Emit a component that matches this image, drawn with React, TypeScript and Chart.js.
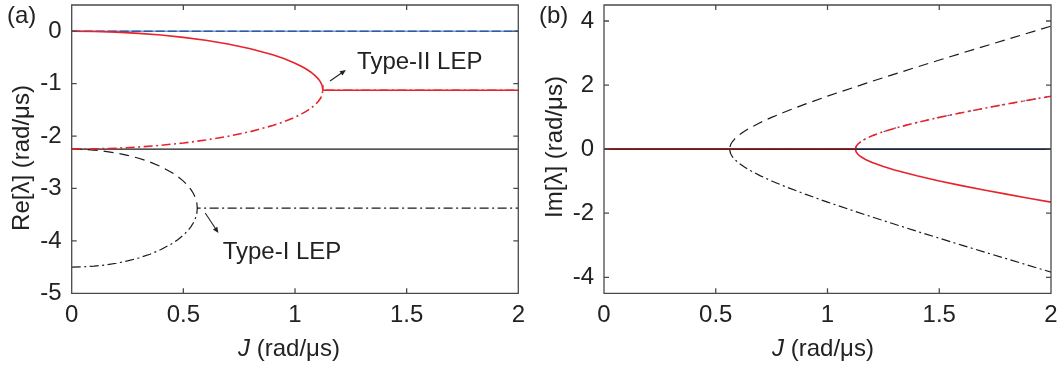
import React, { useEffect, useRef } from "react";
import { Chart, registerables } from "chart.js";
Chart.register(...registerables);

const FONT = "'Liberation Sans', Arial, sans-serif";
const FS = 24;
const TXT = "#222222";
const RED = "#e8232b";
const BLUE = "#2f5aa6";
const BLACK = "#1a1a1a";

// ---------- shared ticks ----------
const xTicks = [0, 0.5, 1, 1.5, 2];
const yTicksA = [0, -1, -2, -3, -4, -5];
const yTicksB = [4, 2, 0, -2, -4];

// ---------- panel (a): Re[lambda] ----------
const jRed = [0, 0.1, 0.2, 0.3, 0.4, 0.5, 0.6, 0.7, 0.8, 0.9, 0.95, 1.0, 1.03, 1.05, 1.07, 1.09, 1.105, 1.115, 1.121, 1.125, 2.0];
const reRedUpper = [0, -0.0045, -0.0179, -0.0407, -0.0735, -0.1172, -0.1734, -0.2443, -0.334, -0.45, -0.5224, -0.6096, -0.6725, -0.7211, -0.7775, -0.8466, -0.9138, -0.9753, -1.0302, -1.125, -1.125];
const reRedLower = [-2.25, -2.2456, -2.2321, -2.2093, -2.1765, -2.1328, -2.0766, -2.0057, -1.916, -1.8, -1.7276, -1.6404, -1.5775, -1.5289, -1.4725, -1.4034, -1.3362, -1.2747, -1.2198, -1.125, -1.125];
const jBlack = [0, 0.05, 0.1, 0.15, 0.2, 0.25, 0.3, 0.35, 0.4, 0.45, 0.475, 0.5, 0.515, 0.525, 0.535, 0.545, 0.5525, 0.5575, 0.5605, 0.5625, 2.0];
const reBlackUpper = [-2.25, -2.2545, -2.2679, -2.2907, -2.3235, -2.3672, -2.4234, -2.4943, -2.584, -2.7, -2.7724, -2.8596, -2.9225, -2.9711, -3.0275, -3.0966, -3.1638, -3.2253, -3.2802, -3.375];
const reBlackLower = [-4.5, -4.4956, -4.4821, -4.4593, -4.4265, -4.3828, -4.3266, -4.2557, -4.166, -4.05, -3.9776, -3.8904, -3.8275, -3.7789, -3.7225, -3.6534, -3.5862, -3.5247, -3.4698, -3.375, -3.375];
const jFlat = [0, 2];
const reBlue = [0, 0];
const reBlackFlat = [-2.25, -2.25];

// ---------- panel (b): Im[lambda] ----------
const jImRed = [0, 1.125, 1.128, 1.135, 1.14, 1.15, 1.17, 1.2, 1.25, 1.3, 1.4, 1.5, 1.6, 1.7, 1.8, 1.9, 2.0];
const imRedUpper = [0, 0, 0.0822, 0.1503, 0.1843, 0.2385, 0.3214, 0.4176, 0.5449, 0.6514, 0.8333, 0.9922, 1.1377, 1.2745, 1.4051, 1.5311, 1.6536];
const imRedLower = [0, 0, -0.0822, -0.1503, -0.1843, -0.2385, -0.3214, -0.4176, -0.5449, -0.6514, -0.8333, -0.9922, -1.1377, -1.2745, -1.4051, -1.5311, -1.6536];
const jImBlack = [0, 0.5625, 0.564, 0.5675, 0.57, 0.575, 0.585, 0.6, 0.625, 0.65, 0.7, 0.75, 0.8, 0.9, 1.0, 1.2, 1.4, 1.6, 1.8, 2.0];
const imBlackUpper = [0, 0, 0.0822, 0.1503, 0.1843, 0.2385, 0.3214, 0.4176, 0.5449, 0.6514, 0.8333, 0.9922, 1.1377, 1.4051, 1.6536, 2.12, 2.5641, 2.9957, 3.4197, 3.8385];
const imBlackLower = [0, 0, -0.0822, -0.1503, -0.1843, -0.2385, -0.3214, -0.4176, -0.5449, -0.6514, -0.8333, -0.9922, -1.1377, -1.4051, -1.6536, -2.12, -2.5641, -2.9957, -3.4197, -3.8385];
const imZero = [0, 0];

const pts = (xs: number[], ys: number[]) => ys.map((y, i) => ({ x: xs[i], y }));

const DASH = [10, 6];
const DASHDOT = [9, 3.5, 2, 3.5];

function line(data: any, color: string, width: number, dash: number[] = []) {
  return {
    data,
    borderColor: color,
    backgroundColor: color,
    borderWidth: width,
    borderDash: dash,
    pointRadius: 0,
    fill: false,
    tension: 0,
  };
}

function makeDecor(p: any) {
  return {
    id: "decor",
    afterDraw(chart: any) {
      const ctx = chart.ctx;
      const sx = chart.scales.x;
      const sy = chart.scales.y;
      const L0 = sx.left, R0 = sx.right, T0 = sy.top, B0 = sy.bottom;
      ctx.save();
      ctx.setLineDash([]);
      ctx.strokeStyle = "#4a4a4a";
      ctx.lineWidth = 1.3;
      ctx.beginPath();
      ctx.moveTo(L0, T0);
      ctx.lineTo(R0, T0);
      ctx.lineTo(R0, B0);
      ctx.lineTo(L0, B0);
      ctx.closePath();
      const L = 5;
      for (const v of xTicks) {
        const x = sx.getPixelForValue(v);
        ctx.moveTo(x, B0);
        ctx.lineTo(x, B0 - L);
        ctx.moveTo(x, T0);
        ctx.lineTo(x, T0 + L);
      }
      for (const v of p.yTicks) {
        const y = sy.getPixelForValue(v);
        ctx.moveTo(L0, y);
        ctx.lineTo(L0 + L, y);
        ctx.moveTo(R0, y);
        ctx.lineTo(R0 - L, y);
      }
      ctx.stroke();

      const o = p.texts;
      ctx.fillStyle = TXT;
      ctx.strokeStyle = TXT;
      const reg = `${FS}px ${FONT}`;
      const ita = `italic ${FS}px ${FONT}`;
      ctx.font = reg;
      ctx.textBaseline = "middle";
      ctx.textAlign = "left";
      ctx.fillText(o.panel, o.panelX, o.panelY);
      ctx.save();
      ctx.translate(o.yTitleX, o.yTitleY);
      ctx.rotate(-Math.PI / 2);
      ctx.textAlign = "center";
      ctx.fillText(o.yTitle, 0, 0);
      ctx.restore();
      ctx.font = ita;
      const wJ = ctx.measureText("J").width;
      ctx.font = reg;
      const rest = " (rad/\u03bcs)";
      const wR = ctx.measureText(rest).width;
      const x0 = o.xTitleX - (wJ + wR) / 2;
      ctx.textAlign = "left";
      ctx.font = ita;
      ctx.fillText("J", x0, o.xTitleY);
      ctx.font = reg;
      ctx.fillText(rest, x0 + wJ, o.xTitleY);
      for (const n of o.notes) {
        ctx.font = reg;
        ctx.textBaseline = "alphabetic";
        ctx.textAlign = "left";
        ctx.fillText(n.text, sx.getPixelForValue(n.x), sy.getPixelForValue(n.y));
        const x1 = sx.getPixelForValue(n.arrow[0]);
        const y1 = sy.getPixelForValue(n.arrow[1]);
        const x2 = sx.getPixelForValue(n.arrow[2]);
        const y2 = sy.getPixelForValue(n.arrow[3]);
        const ang = Math.atan2(y2 - y1, x2 - x1);
        const hl = 6, hw = 2.6;
        ctx.lineWidth = 1.1;
        ctx.beginPath();
        ctx.moveTo(x1, y1);
        ctx.lineTo(x2 - hl * 0.6 * Math.cos(ang), y2 - hl * 0.6 * Math.sin(ang));
        ctx.stroke();
        ctx.beginPath();
        ctx.moveTo(x2, y2);
        ctx.lineTo(x2 - hl * Math.cos(ang) + hw * Math.sin(ang), y2 - hl * Math.sin(ang) - hw * Math.cos(ang));
        ctx.lineTo(x2 - hl * Math.cos(ang) - hw * Math.sin(ang), y2 - hl * Math.sin(ang) + hw * Math.cos(ang));
        ctx.closePath();
        ctx.fill();
      }
      ctx.restore();
    },
  };
}

function makeOptions(p: any) {
  return {
    responsive: false,
    animation: false,
    events: [],
    layout: { padding: { top: p.top, right: p.right, bottom: 0, left: 0 } },
    plugins: {
      legend: { display: false },
      tooltip: { enabled: false },
    },
    scales: {
      x: {
        type: "linear",
        min: 0,
        max: 2,
        afterBuildTicks: (s: any) => {
          s.ticks = xTicks.map((v) => ({ value: v }));
        },
        afterFit: (s: any) => {
          s.height = p.xHeight;
          s.paddingLeft = 0;
          s.paddingRight = 0;
          s.paddingTop = 0;
          s.paddingBottom = 0;
        },
        grid: { display: false, drawTicks: false },
        border: { display: false },
        ticks: {
          autoSkip: false,
          maxRotation: 0,
          padding: 8,
          color: TXT,
          font: { family: FONT, size: FS },
          callback: (v: number) => String(v),
        },
      },
      y: {
        type: "linear",
        min: p.yMin,
        max: p.yMax,
        afterBuildTicks: (s: any) => {
          s.ticks = p.yTicks.map((v: number) => ({ value: v }));
        },
        afterFit: (s: any) => {
          s.width = p.yWidth;
          s.paddingLeft = 0;
          s.paddingRight = 0;
          s.paddingTop = 0;
          s.paddingBottom = 0;
        },
        grid: { display: false, drawTicks: false },
        border: { display: false },
        ticks: {
          autoSkip: false,
          padding: 10,
          color: TXT,
          font: { family: FONT, size: FS },
          callback: (v: number) => String(v),
        },
      },
    },
  };
}

function Panel({ left, datasets, opts }: any) {
  const ref = useRef<HTMLCanvasElement>(null);
  useEffect(() => {
    const chart = new Chart(ref.current as HTMLCanvasElement, {
      type: "line",
      data: { datasets },
      options: makeOptions(opts) as any,
      plugins: [makeDecor(opts)],
    } as any);
    return () => chart.destroy();
  }, []);
  return (
    <canvas
      ref={ref}
      width={530}
      height={369}
      style={{ position: "absolute", left, top: 0, width: 530, height: 369 }}
    />
  );
}

export default function App() {
  const dsA = [
    line(pts(jRed, reRedUpper), RED, 1.6),
    line(pts(jRed, reRedLower), RED, 1.6, DASHDOT),
    line(pts(jFlat, reBlue), BLUE, 1.6, [9, 3]),
    line(pts(jFlat, reBlue), "#7d9ed4", 1.6),
    line(pts(jFlat, reBlackFlat), BLACK, 1.2),
    line(pts(jBlack.slice(0, reBlackUpper.length), reBlackUpper), BLACK, 1.2, DASH),
    line(pts(jBlack, reBlackLower), BLACK, 1.2, DASHDOT),
  ];
  const dsB = [
    line(pts(jFlat, imZero), BLACK, 1.0),
    line(pts(jImRed, imRedLower), RED, 1.6),
    line(pts(jImRed, imRedUpper), RED, 1.6, DASHDOT),
    line(pts(jImRed, imRedUpper), BLUE, 1.2, [2, 9]),
    line(pts(jImBlack, imBlackUpper), BLACK, 1.2, DASH),
    line(pts(jImBlack, imBlackLower), BLACK, 1.2, DASHDOT),
    line(pts(jFlat, imZero), "#26407a", 1.7),
  ];
  const optsA = {
    top: 5,
    right: 11.7,
    xHeight: 75.7,
    yWidth: 71.7,
    yMin: -5,
    yMax: 0.5,
    yTicks: yTicksA,
    texts: {
      panel: "(a)",
      panelX: 7,
      panelY: 16,
      yTitle: "Re[\u03bb] (rad/\u03bcs)",
      yTitleX: 22,
      yTitleY: 158,
      xTitleX: 289,
      xTitleY: 349,
      notes: [
        { text: "Type-II LEP", x: 1.278, y: -0.73, arrow: [1.157, -0.951, 1.228, -0.74] },
        { text: "Type-I LEP", x: 0.676, y: -4.349, arrow: [0.598, -3.469, 0.657, -3.851] },
      ],
    },
  };
  const optsB = {
    top: 5,
    right: 9,
    xHeight: 75.7,
    yWidth: 74,
    yMin: -4.5,
    yMax: 4.5,
    yTicks: yTicksB,
    texts: {
      panel: "(b)",
      panelX: 9,
      panelY: 16,
      yTitle: "Im[\u03bb] (rad/\u03bcs)",
      yTitleX: 25,
      yTitleY: 147,
      xTitleX: 293,
      xTitleY: 349,
      notes: [],
    },
  };
  return (
    <div style={{ position: "fixed", left: 0, top: 0, width: 1060, height: 369, background: "#fff" }}>
      <Panel left={0} datasets={dsA} opts={optsA} />
      <Panel left={530} datasets={dsB} opts={optsB} />
    </div>
  );
}
